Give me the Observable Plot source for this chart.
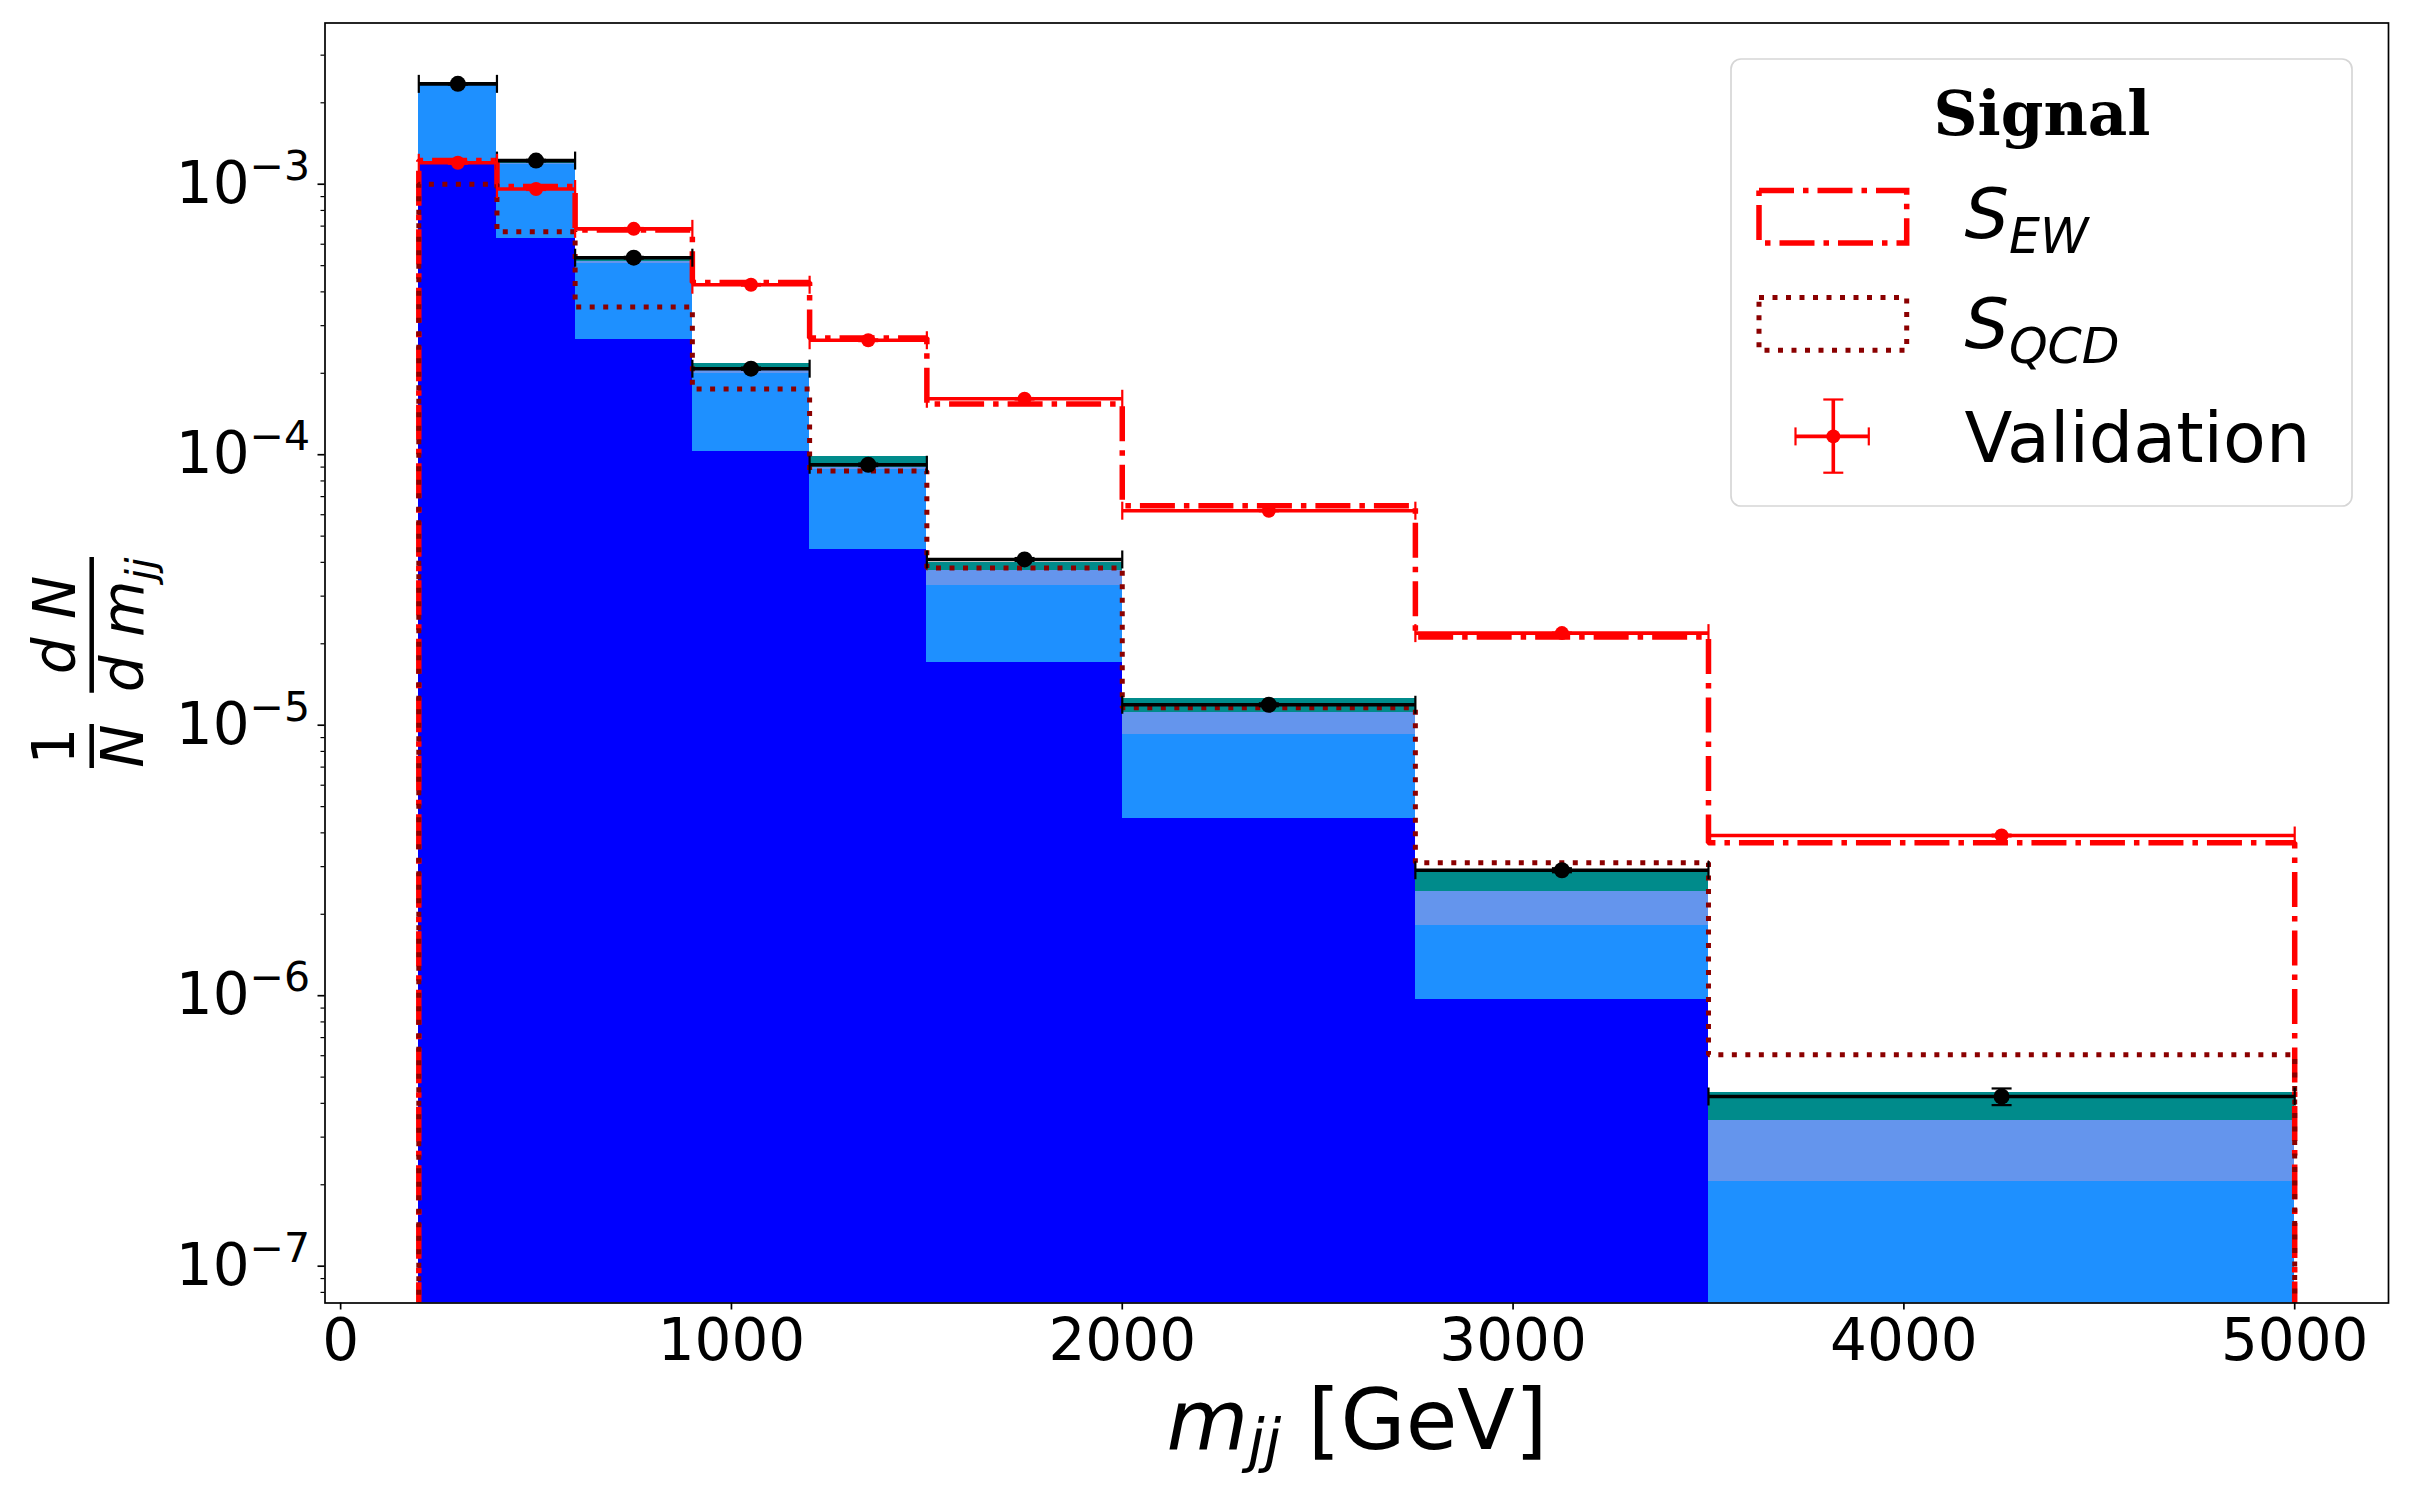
<!DOCTYPE html>
<html>
<head>
<meta charset="utf-8">
<script src="https://cdn.jsdelivr.net/npm/d3@7"></script>
<script src="https://cdn.jsdelivr.net/npm/@observablehq/plot@0.6"></script>
<style>
html, body { margin: 0; padding: 0; background: #fff; }
#chart { width: 2411px; height: 1500px; }
</style>
</head>
<body>
<div id="chart"></div>
<script>
// ---- data ----
const binEdges = [200, 400, 600, 900, 1200, 1500, 2000, 2750, 3500, 5000];

// stacked background components (bottom to top)
const bkgBlue       = [1.18e-3, 6.32e-4, 2.66e-4, 1.03e-4, 4.47e-5, 1.70e-5, 4.53e-6, 9.72e-7, 0];
const bkgDodger     = [1.14e-3, 5.48e-4, 2.44e-4, 9.6e-5, 4.33e-5, 1.59e-5, 4.71e-6, 8.48e-7, 2.06e-7];
const bkgCornflower = [1.0e-5, 1.0e-5, 1.0e-5, 7.0e-6, 2.0e-6, 4.3e-6, 1.91e-6, 6.1e-7, 1.39e-7];
const bkgTeal       = [1.0e-5, 1.0e-5, 2.0e-5, 1.1e-5, 8.7e-6, 2.8e-6, 1.45e-6, 5.0e-7, 9.2e-8];
const bkgColors = ["#0000ff", "#1e90ff", "#6495ed", "#008b8b"];

// black points (background total with errors)
const bkgTotal    = [2.35e-3, 1.223e-3, 5.35e-4, 2.08e-4, 9.18e-5, 4.1e-5, 1.19e-5, 2.91e-6, 4.24e-7];
const bkgTotalErr = [1.5e-5, 8e-6, 4e-6, 2e-6, 1e-6, 5e-7, 1.5e-7, 5e-8, 3e-8];

// signal step histograms
const sigEW  = [1.224e-3, 9.8e-4, 6.78e-4, 4.33e-4, 2.7e-4, 1.54e-4, 6.48e-5, 2.12e-5, 3.68e-6];
const sigQCD = [1.0e-3, 6.67e-4, 3.52e-4, 1.75e-4, 8.7e-5, 3.81e-5, 1.16e-5, 3.1e-6, 6.05e-7];

// validation (red points)
const validation    = [1.2e-3, 9.6e-4, 6.84e-4, 4.25e-4, 2.65e-4, 1.61e-4, 6.21e-5, 2.19e-5, 3.91e-6];
const validationErr = [1e-5, 8e-6, 5e-6, 3e-6, 2e-6, 1e-6, 3e-7, 1e-7, 3e-8];

const xTicks = [0, 1000, 2000, 3000, 4000, 5000];
const yTicks = [1e-7, 1e-6, 1e-5, 1e-4, 1e-3];
const legendTitle = "Signal";
const legendEntries = [
  {main: "S", sub: "EW"},
  {main: "S", sub: "QCD"},
  {main: "Validation", sub: ""}
];
const xLabel = {main: "m", sub: "jj", unit: " [GeV]"};

// ---- derived tables ----
const FLOOR = 1e-10;
const yDomain = [7.31e-8, 3.945e-3];
const comps = [bkgBlue, bkgDodger, bkgCornflower, bkgTeal];
const rects = [];
for (let i = 0; i < binEdges.length - 1; i++) {
  let cum = 0;
  comps.forEach((c, k) => {
    const lo = cum;
    cum += c[i];
    if (c[i] > 0) rects.push({x1: binEdges[i], x2: binEdges[i + 1], y1: lo > 0 ? lo : FLOOR, y2: cum, fill: bkgColors[k]});
  });
}
function stepPath(vals) {
  const pts = [{x: binEdges[0], y: FLOOR}];
  vals.forEach((v, i) => { pts.push({x: binEdges[i], y: v}); pts.push({x: binEdges[i + 1], y: v}); });
  pts.push({x: binEdges[binEdges.length - 1], y: FLOOR});
  return pts;
}
const bins = sigEW.map((_, i) => ({
  lo: binEdges[i], hi: binEdges[i + 1], mid: (binEdges[i] + binEdges[i + 1]) / 2,
  bkg: bkgTotal[i], bkgErr: bkgTotalErr[i], val: validation[i], valErr: validationErr[i]
}));
const xcaps = (key) => bins.flatMap(d => [{x: d.lo, y: d[key]}, {x: d.hi, y: d[key]}]);
const ycaps = (key, ekey) => bins.flatMap(d => [{x: d.mid, y: d[key] - d[ekey]}, {x: d.mid, y: d[key] + d[ekey]}]);
const minorTicks = [];
for (let e = -9; e <= -2; e++) for (let m = 2; m <= 9; m++) {
  const v = m * Math.pow(10, e);
  if (v >= yDomain[0] && v <= yDomain[1]) minorTicks.push(v);
}

const vcap = {draw(ctx) { ctx.moveTo(0, -9); ctx.lineTo(0, 9); }};
const hcap = {draw(ctx) { ctx.moveTo(-10, 0); ctx.lineTo(10, 0); }};

const svg = Plot.plot({
  width: 2411, height: 1500,
  marginLeft: 324.5, marginRight: 23, marginTop: 22.5, marginBottom: 197.5,
  style: {fontFamily: "DejaVu Sans", background: "white", color: "black"},
  x: {domain: [-40, 5240], label: null},
  y: {type: "log", domain: yDomain, label: null},
  color: {type: "identity"},
  marks: [
    Plot.rect(rects, {x1: "x1", x2: "x2", y1: "y1", y2: "y2", fill: "fill", clip: true, shapeRendering: "crispEdges"}),
    Plot.line(stepPath(sigEW), {x: "x", y: "y", stroke: "red", strokeWidth: 5.5, strokeDasharray: "35,9,5.5,9", strokeLinecap: "butt", strokeLinejoin: "miter", clip: true}),
    Plot.line(stepPath(sigQCD), {x: "x", y: "y", stroke: "#8b0000", strokeWidth: 5, strokeDasharray: "5,8.5", strokeLinecap: "butt", strokeLinejoin: "miter", clip: true}),
    // background points with error bars
    Plot.ruleY(bins, {x1: "lo", x2: "hi", y: "bkg", stroke: "black", strokeWidth: 3.6}),
    Plot.ruleX(bins, {x: "mid", y1: d => d.bkg - d.bkgErr, y2: d => d.bkg + d.bkgErr, stroke: "black", strokeWidth: 3.6}),
    Plot.dot(xcaps("bkg"), {x: "x", y: "y", symbol: vcap, stroke: "black", strokeWidth: 2.2, fill: "none"}),
    Plot.dot(ycaps("bkg", "bkgErr"), {x: "x", y: "y", symbol: hcap, stroke: "black", strokeWidth: 2.2, fill: "none"}),
    Plot.dot(bins, {x: "mid", y: "bkg", r: 8, fill: "black"}),
    // validation points
    Plot.ruleY(bins, {x1: "lo", x2: "hi", y: "val", stroke: "red", strokeWidth: 3.6}),
    Plot.ruleX(bins, {x: "mid", y1: d => d.val - d.valErr, y2: d => d.val + d.valErr, stroke: "red", strokeWidth: 3.6}),
    Plot.dot(xcaps("val"), {x: "x", y: "y", symbol: vcap, stroke: "red", strokeWidth: 2.2, fill: "none"}),
    Plot.dot(ycaps("val", "valErr"), {x: "x", y: "y", symbol: hcap, stroke: "red", strokeWidth: 2.2, fill: "none"}),
    Plot.dot(bins, {x: "mid", y: "val", r: 7, fill: "red"}),
    // axes
    Plot.axisX(xTicks, {tickSize: 7, tickPadding: 9, fontSize: 58, tickFormat: d => String(d), label: null, strokeWidth: 1.7}),
    Plot.axisY(yTicks, {tickSize: 7, tickPadding: 8, fontSize: 58, tickFormat: d => "e" + Math.round(Math.log10(d)), label: null, strokeWidth: 1.7}),
    Plot.axisY(minorTicks, {tickSize: 4, tickFormat: () => "", label: null, strokeWidth: 1.2}),
    Plot.frame({stroke: "black", strokeWidth: 1.7})
  ]
});
document.getElementById("chart").appendChild(svg);

// y tick labels as 10^{n}
svg.querySelectorAll("text").forEach(t => {
  const s = t.textContent;
  const m = /^e(-?\d+)$/.exec(s);
  if (!m) return;
  while (t.firstChild) t.removeChild(t.firstChild);
  const ns = "http://www.w3.org/2000/svg";
  const a = document.createElementNS(ns, "tspan"); a.textContent = "10";
  const b = document.createElementNS(ns, "tspan");
  b.textContent = m[1].replace("-", "\u2212");
  b.setAttribute("font-size", "41"); b.setAttribute("dy", "-23");
  t.appendChild(a); t.appendChild(b);
});

const S = d3.select(svg);
// x label
const xl = S.append("text").attr("x", 1357).attr("y", 1449.3).attr("text-anchor", "middle")
  .attr("font-family", "DejaVu Sans").attr("font-size", 84).attr("fill", "black");
xl.append("tspan").attr("font-style", "italic").text(xLabel.main);
xl.append("tspan").attr("font-style", "italic").attr("font-size", 59).attr("dy", 11.4).text(xLabel.sub);
xl.append("tspan").attr("dy", -11.4).text(xLabel.unit);

// y label: 1/N dN/dm_jj
const yl = S.append("g").attr("transform", "translate(91.7,662) rotate(-90)")
  .attr("font-family", "DejaVu Sans").attr("font-size", 58).attr("fill", "black");
yl.append("line").attr("x1", -106).attr("x2", -62).attr("y1", 0).attr("y2", 0).attr("stroke", "black").attr("stroke-width", 4.5);
yl.append("text").attr("x", -84).attr("y", -18).attr("text-anchor", "middle").text("1");
yl.append("text").attr("x", -84).attr("y", 51).attr("text-anchor", "middle").attr("font-style", "italic").text("N");
yl.append("line").attr("x1", -30.7).attr("x2", 105).attr("y1", 0).attr("y2", 0).attr("stroke", "black").attr("stroke-width", 4.5);
yl.append("text").attr("x", 37).attr("y", -17).attr("text-anchor", "middle").attr("font-style", "italic").text("d N");
const den = yl.append("text").attr("x", 37).attr("y", 51).attr("text-anchor", "middle").attr("font-style", "italic");
den.append("tspan").text("d m");
den.append("tspan").attr("font-size", 41).attr("dy", 12).text("jj");

// legend
const L = S.append("g").attr("font-family", "DejaVu Sans").attr("fill", "black").attr("text-anchor", "start");
L.append("rect").attr("x", 1731).attr("y", 59).attr("width", 621).attr("height", 447).attr("rx", 10)
  .attr("fill", "white").attr("fill-opacity", 0.8).attr("stroke", "#d6d6d6").attr("stroke-width", 1.7);
L.append("text").attr("x", 2042).attr("y", 135.4).attr("text-anchor", "middle")
  .attr("font-family", "DejaVu Serif").attr("font-weight", "bold").attr("font-size", 61).text(legendTitle);
L.append("rect").attr("x", 1759).attr("y", 190.4).attr("width", 147.7).attr("height", 52.6)
  .attr("fill", "none").attr("stroke", "red").attr("stroke-width", 5.5).attr("stroke-dasharray", "35,9,5.5,9");
L.append("rect").attr("x", 1759).attr("y", 297.6).attr("width", 147.7).attr("height", 52.6)
  .attr("fill", "none").attr("stroke", "#8b0000").attr("stroke-width", 5).attr("stroke-dasharray", "5,8.5");
// validation marker
const vx = 1833.3, vy = 436.4;
L.append("line").attr("x1", 1795.5).attr("x2", 1868.8).attr("y1", vy).attr("y2", vy).attr("stroke", "red").attr("stroke-width", 3.6);
L.append("line").attr("x1", vx).attr("x2", vx).attr("y1", 399.5).attr("y2", 472.7).attr("stroke", "red").attr("stroke-width", 3.6);
[[1795.5, vy - 9, 1795.5, vy + 9], [1868.8, vy - 9, 1868.8, vy + 9], [vx - 10, 399.5, vx + 10, 399.5], [vx - 10, 472.7, vx + 10, 472.7]]
  .forEach(c => L.append("line").attr("x1", c[0]).attr("y1", c[1]).attr("x2", c[2]).attr("y2", c[3]).attr("stroke", "red").attr("stroke-width", 2.2));
L.append("circle").attr("cx", vx).attr("cy", vy).attr("r", 7).attr("fill", "red");
const lblY = [237.8, 348.3, 461.7];
legendEntries.forEach((e, i) => {
  const t = L.append("text").attr("x", 1964.6).attr("y", lblY[i]).attr("font-size", 70).attr("text-anchor", "start");
  if (e.sub) {
    t.append("tspan").attr("font-style", "italic").text(e.main);
    t.append("tspan").attr("font-style", "italic").attr("font-size", 49).attr("dy", 15).text(e.sub);
  } else {
    t.text(e.main);
  }
});
</script>
</body>
</html>
